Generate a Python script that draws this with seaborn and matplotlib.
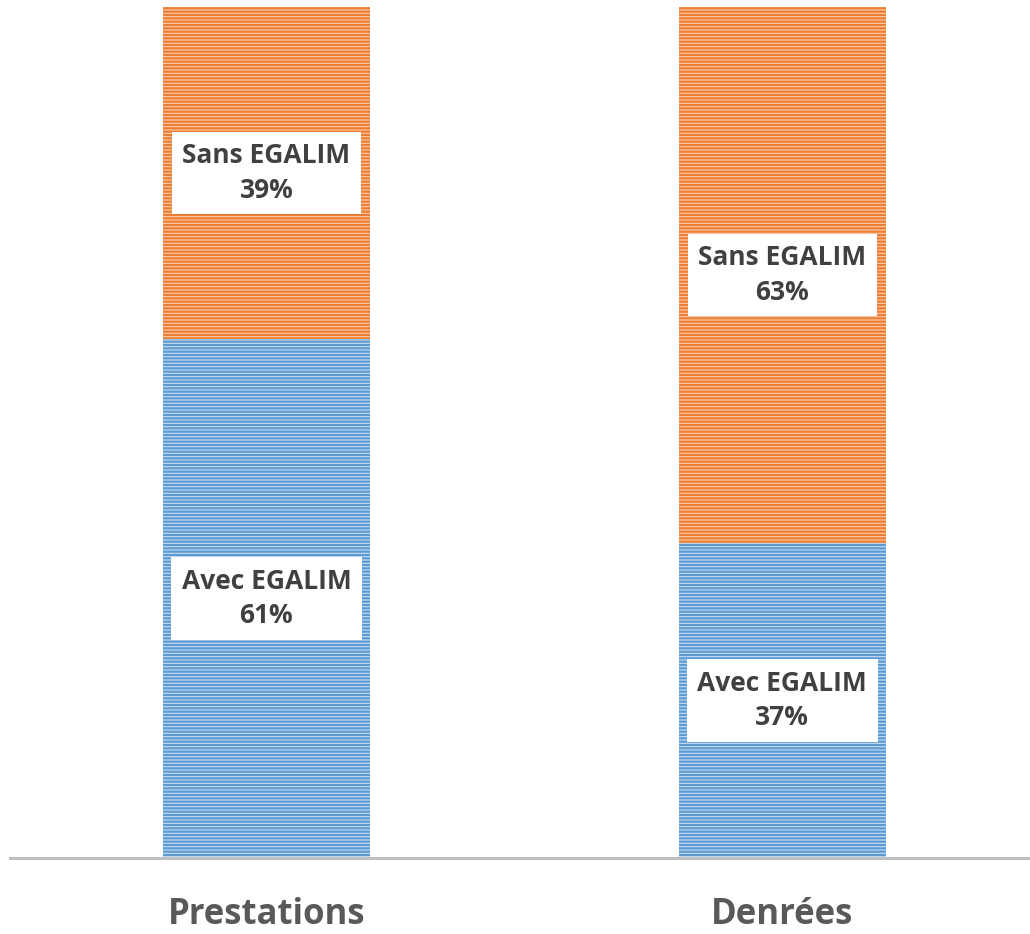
import matplotlib
matplotlib.use("Agg")
import matplotlib.pyplot as plt
import seaborn as sns
import pandas as pd

categories = ["Prestations", "Denrées"]
avec = [61, 37]
sans = [39, 63]
avec_label = "Avec EGALIM"
sans_label = "Sans EGALIM"

sns.set_style("white")
plt.rcParams['font.family'] = ['Open Sans', 'DejaVu Sans']
plt.rcParams['hatch.linewidth'] = 1.6

df = pd.DataFrame({"cat": categories, "avec": avec, "sans": sans})

fig = plt.figure(figsize=(10.3, 9.34), dpi=100)
ax = fig.add_axes([0.0097, 0.0814, 0.9903, 0.9111])

# stacked bars: blue bottom, orange on top
sns.barplot(data=df, x="cat", y="avec", color='#C9DDF1', saturation=1,
            width=0.401, hatch='-----', edgecolor='#5B9BD5', linewidth=0, ax=ax)
n_blue = len(ax.patches)
for b in ax.patches:
    b._hatch_color = matplotlib.colors.to_rgba('#5B9BD5')

sns.barplot(data=df, x="cat", y="sans", bottom=df["avec"], color='#F8CDAE', saturation=1,
            width=0.401, hatch='-----', edgecolor='#ED7D31', linewidth=0, ax=ax)
for b in ax.patches[n_blue:]:
    b._hatch_color = matplotlib.colors.to_rgba('#ED7D31')

ax.set_ylim(0, 100)
ax.set_xlim(-0.497, 1.48)
ax.set_yticks([])
ax.set_xlabel("")
ax.set_ylabel("")
for s in ["top", "left", "right"]:
    ax.spines[s].set_visible(False)
ax.spines["bottom"].set_color('#BFBFBF')
ax.spines["bottom"].set_linewidth(2.2)
ax.tick_params(axis='x', length=0, pad=28)
ax.set_xticks(range(len(categories)))
ax.set_xticklabels(categories, fontsize=25, fontweight='bold', color='#595959')

box = dict(boxstyle='square,pad=0.4', facecolor='white', edgecolor='none')
for i in range(len(categories)):
    ax.text(i, avec[i] / 2, f"{avec_label}\n{avec[i]}%", ha='center', va='center',
            fontsize=19, fontweight='bold', color='#404040', linespacing=1.35, bbox=box)
    ax.text(i, avec[i] + sans[i] / 2, f"{sans_label}\n{sans[i]}%", ha='center', va='center',
            fontsize=19, fontweight='bold', color='#404040', linespacing=1.35, bbox=box)

fig.savefig("out.png", dpi=100)
